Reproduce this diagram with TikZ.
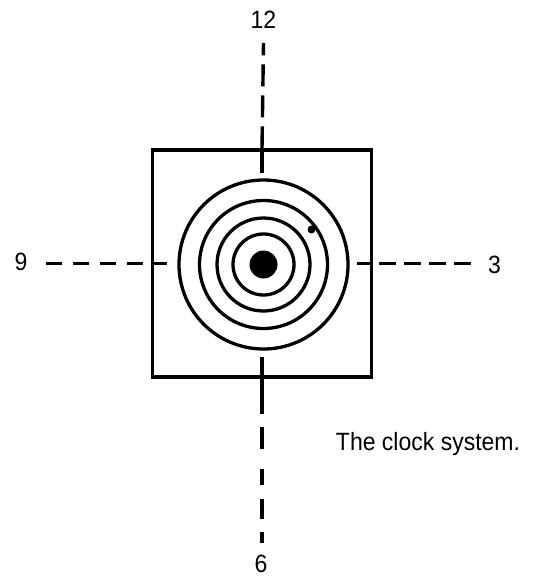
\documentclass[tikz,border=0pt]{standalone}
\usepackage{fontspec}
\setmainfont{Liberation Sans}
\tikzstyle{clockline}=[line width=3.3pt]
\tikzstyle{axisline}=[line width=3.4pt]
\tikzstyle{lab}=[anchor=base, inner sep=0pt, xscale=0.92, font=\fontsize{25}{30}\selectfont]

\begin{document}
\begin{tikzpicture}[x=1pt,y=-1pt]
\useasboundingbox (0,0) rectangle (534,578);
\node[lab] (n12) at (263.5,29) {12};
\node[lab] (n9) at (21,270.7) {9};
\node[lab] (n3) at (494.5,273.3) {3};
\node[lab] (n6) at (261,572.5) {6};
\node[lab] (cap) at (428,450) {The clock system.};
\node[draw, clockline, minimum width=219pt, minimum height=227pt, inner sep=0pt] (box) at (262,263.5) {};
\coordinate (O) at (263.5,264.5);
\coordinate (e12) at (263.5,43);
\coordinate (e6) at (262,543);
\coordinate (s9) at (143,263.5);\coordinate (e9) at (43,263.5);
\coordinate (s3) at (379,263.5);\coordinate (e3) at (472,263.5);
\coordinate (knob) at (311.5,229.5);
% rings
\foreach \r in {84.5,64,46.5,30.5} \draw[clockline] (O) circle[radius=\r pt];
\fill (O) circle[radius=14pt];
\fill (knob) circle[radius=4pt];
% ticks inside the box
\draw[clockline](box.north)--++(0,25);\draw[clockline](box.south)--++(0,-22);
\draw[clockline](box.west)--++(16,0);\draw[clockline](box.east)--++(-16,0);
% dashed axes
\draw[axisline, dash pattern=on 22pt off 9pt](box.north)--(e12);
\draw[axisline, dash pattern=on 35pt off 13pt on 22pt off 20pt on 16pt off 14pt on 20pt off 13pt on 13pt off 10pt](box.south)--(e6);
\draw[axisline, dash pattern=on 16pt off 11pt](s9)--(e9);
\draw[axisline, dash pattern=on 17pt off 8pt](s3)--(e3);
\end{tikzpicture}
\end{document}
